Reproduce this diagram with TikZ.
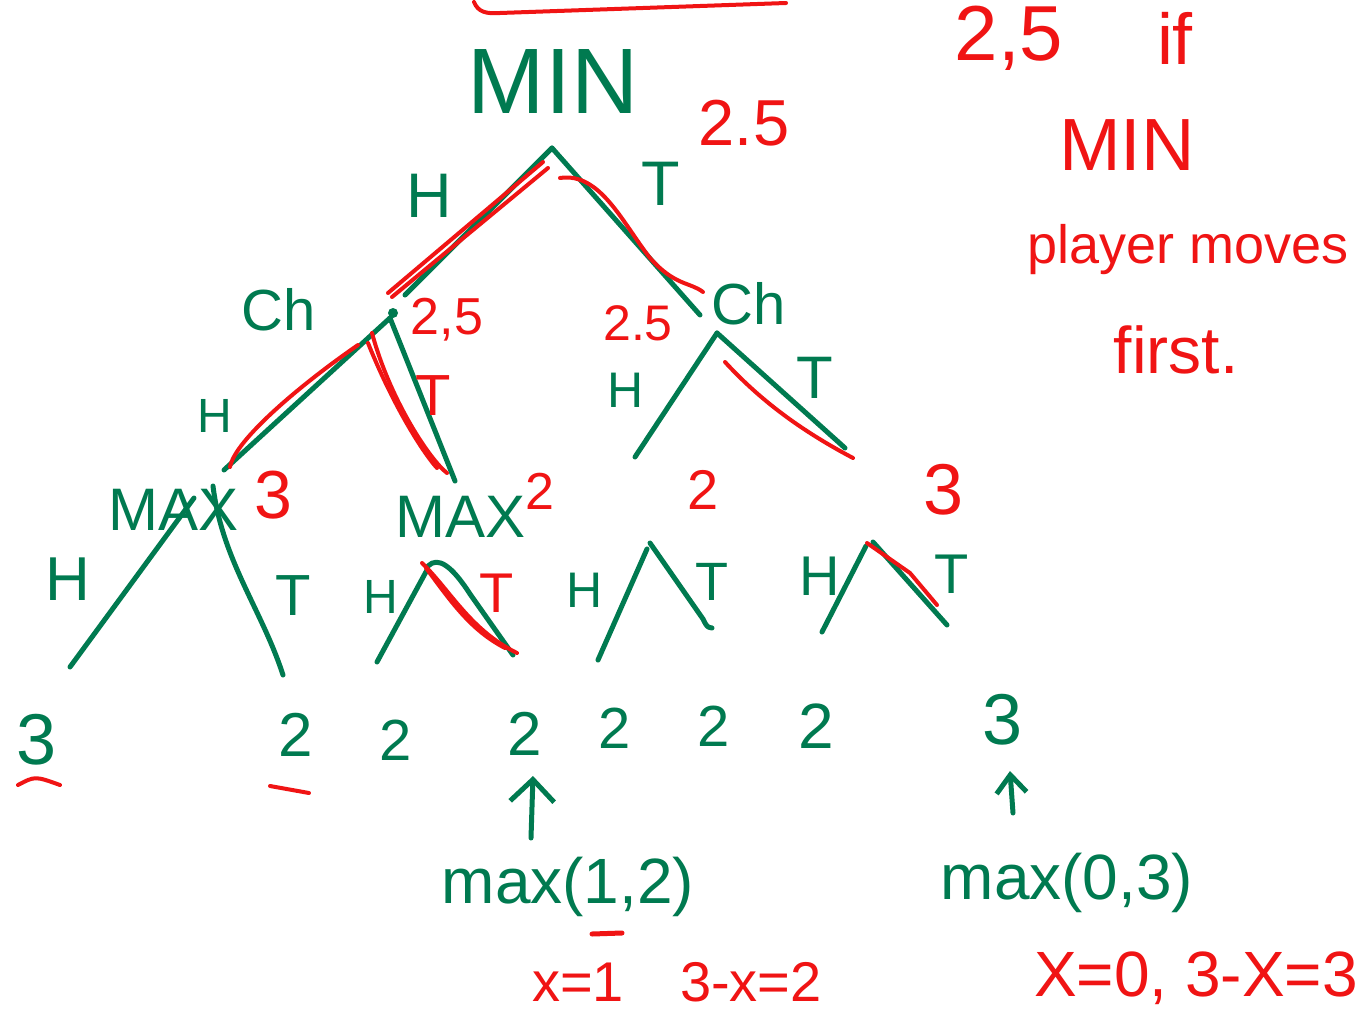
\documentclass[tikz,border=0pt]{standalone}
\usepackage{fontspec}
\setmainfont{Liberation Sans}
\usetikzlibrary{arrows.meta}
\definecolor{ink}{RGB}{0,122,80}
\definecolor{pen}{RGB}{240,20,20}
\begin{document}
\begin{tikzpicture}[x=1pt,y=-1pt,
  gline/.style={draw=ink,line width=5pt,line cap=round,line join=round},
  rline/.style={draw=pen,line width=4pt,line cap=round,line join=round},
  garr/.style={gline,-{Straight Barb[length=22pt,width=44pt]}},
  gtxt/.style={text=ink,inner sep=0pt,font=\fontsize{#1}{#1}\selectfont},
  rtxt/.style={text=pen,inner sep=0pt,font=\fontsize{#1}{#1}\selectfont}]
\useasboundingbox (0,0) rectangle (1371,1025);
\fill[white] (0,0) rectangle (1371,1025);

% ---- tree coordinates
\coordinate (root) at (552,148);
\coordinate (chLin) at (405,295);
\coordinate (chRin) at (700,315);
\coordinate (chL) at (390,318);
\coordinate (chR) at (717,333);
\coordinate (maxLin) at (224,470);
\coordinate (maxRin) at (455,481);
\coordinate (c3in) at (635,457);
\coordinate (c4in) at (845,448);
\coordinate (maxLa) at (194,498);
\coordinate (maxLb) at (213,486);
\coordinate (t2a) at (427,570);
\coordinate (t2b) at (428,566);
\coordinate (t3a) at (647,549);
\coordinate (t3b) at (650,543);
\coordinate (t4a) at (866,546);
\coordinate (t4b) at (873,542);
\coordinate (e1) at (70,667);
\coordinate (e2) at (283,675);
\coordinate (e3) at (377,662);
\coordinate (e4) at (513,655);
\coordinate (e5) at (598,660);
\coordinate (e6) at (712,628);
\coordinate (e7) at (822,632);
\coordinate (e8) at (947,625);

% ---- green edges
\draw[gline] (root) -- (chLin);
\draw[gline] (root) -- (chRin);
\draw[gline] (chL) -- (maxLin);
\draw[gline] (chL) -- (maxRin);
\draw[gline] (chR) -- (c3in);
\draw[gline] (chR) -- (c4in);
\fill[ink] (393,313) circle (5);
\draw[gline] (maxLa) -- (e1);
\draw[gline] (maxLb) .. controls (222,560) and (262,610) .. (e2);
\draw[gline] (t2a) -- (e3);
\draw[gline] (t2b) .. controls (438,556) and (452,566) .. (470,594) -- (e4);
\draw[gline] (t3a) -- (e5);
\draw[gline] (t3b) -- (703,619) .. controls (707,627) .. (e6);
\draw[gline] (t4a) -- (e7);
\draw[gline] (t4b) -- (e8);

% ---- red overlays
\draw[rline] (474,2) .. controls (478,12) and (486,14) .. (500,13) -- (786,3);
\draw[rline] (388,293) -- (543,162);
\draw[rline] (392,297) -- (548,168);
\draw[rline] (560,178) .. controls (600,172) and (622,222) .. (650,258) .. controls (675,286) and (690,282) .. (703,292);
\draw[rline] (230,467) .. controls (235,440) and (300,385) .. (358,345);
\draw[rline] (372,333) .. controls (390,400) and (430,460) .. (447,473);
\draw[rline] (368,343) .. controls (395,410) and (425,455) .. (437,468);
\draw[rline] (725,362) .. controls (760,400) and (800,430) .. (853,458);
\draw[rline] (422,563) .. controls (450,590) and (470,630) .. (517,653);
\draw[rline] (426,568) .. controls (450,600) and (470,630) .. (505,648);
\draw[rline] (867,543) -- (910,573) -- (937,605);
\draw[rline] (18,785) .. controls (35,776) .. (60,785);
\draw[rline] (270,786) -- (309,793);
\draw[rline,line width=5pt] (592,934) -- (622,933);

% ---- green labels
\node[gtxt=93] (minT) at (553,82) {MIN};
\node[gtxt=63] (hRoot) at (429,196) {H};
\node[gtxt=63] (tRoot) at (661,184) {T};
\node[gtxt=58] (chLT) at (279,310) {Ch};
\node[gtxt=58] (chRT) at (749,304) {Ch};
\node[gtxt=48] (hChL) at (215,416) {H};
\node[gtxt=50] (hChR) at (626,390) {H};
\node[gtxt=60] (tChR) at (815,378) {T};
\node[gtxt=60] (maxLT) at (174,510) {MAX};
\node[gtxt=60] (maxRT) at (461,517) {MAX};
\node[gtxt=62] (h1) at (68,579) {H};
\node[gtxt=58] (tl1) at (293,596) {T};
\node[gtxt=48] (h2) at (381,597) {H};
\node[gtxt=50] (h3) at (585,590) {H};
\node[gtxt=54] (tl3) at (712,582) {T};
\node[gtxt=56] (h4) at (820,576) {H};
\node[gtxt=56] (tl4) at (952,574) {T};

% ---- leaves
\node[gtxt=72] (lf1) at (37,740) {3};
\node[gtxt=62] (lf2) at (296,735) {2};
\node[gtxt=58] (lf3) at (396,740) {2};
\node[gtxt=62] (lf4) at (525,734) {2};
\node[gtxt=58] (lf5) at (615,728) {2};
\node[gtxt=58] (lf6) at (714,726) {2};
\node[gtxt=64] (lf7) at (816,726) {2};
\node[gtxt=72] (lf8) at (1003,720) {3};

% ---- arrows and max labels
\node[gtxt=64] (m12) at (568,887) {max(1,2)};
\node[gtxt=64] (m03) at (1067,883) {max(0,3)};
\coordinate (a1s) at (531,838);
\coordinate (a1e) at (533,776);
\coordinate (a2s) at (1013,813);
\coordinate (a2e) at (1010,771);
\draw[garr] (a1s) -- (a1e);
\draw[gline,-{Straight Barb[length=18pt,width=30pt]}] (a2s) -- (a2e);

% ---- red labels
\node[rtxt=65] (vRoot) at (744,123) {2.5};
\node[rtxt=52] (vChL) at (447,320) {2,5};
\node[rtxt=50] (vChR) at (638,323) {2.5};
\node[rtxt=58] (tChL) at (433,396) {T};
\node[rtxt=68] (vMaxL) at (273,495) {3};
\node[rtxt=52] (vMaxR) at (540,491) {2};
\node[rtxt=56] (v3) at (703,490) {2};
\node[rtxt=72] (v4) at (944,490) {3};
\node[rtxt=56] (tl2) at (497,593) {T};
\node[rtxt=56] (eq1) at (677,982) {x=1\quad 3-x=2};
\node[rtxt=64] (eq2) at (1196,978) {X=0, 3-X=3};

% ---- side note
\node[rtxt=78] (n1) at (1009,38) {2,5};
\node[rtxt=72] (n2) at (1175,38) {if};
\node[rtxt=74] (n3) at (1127,145) {MIN};
\node[rtxt=54] (n4) at (1188,250) {player moves};
\node[rtxt=66] (n5) at (1176,350) {first.};
\end{tikzpicture}
\end{document}
